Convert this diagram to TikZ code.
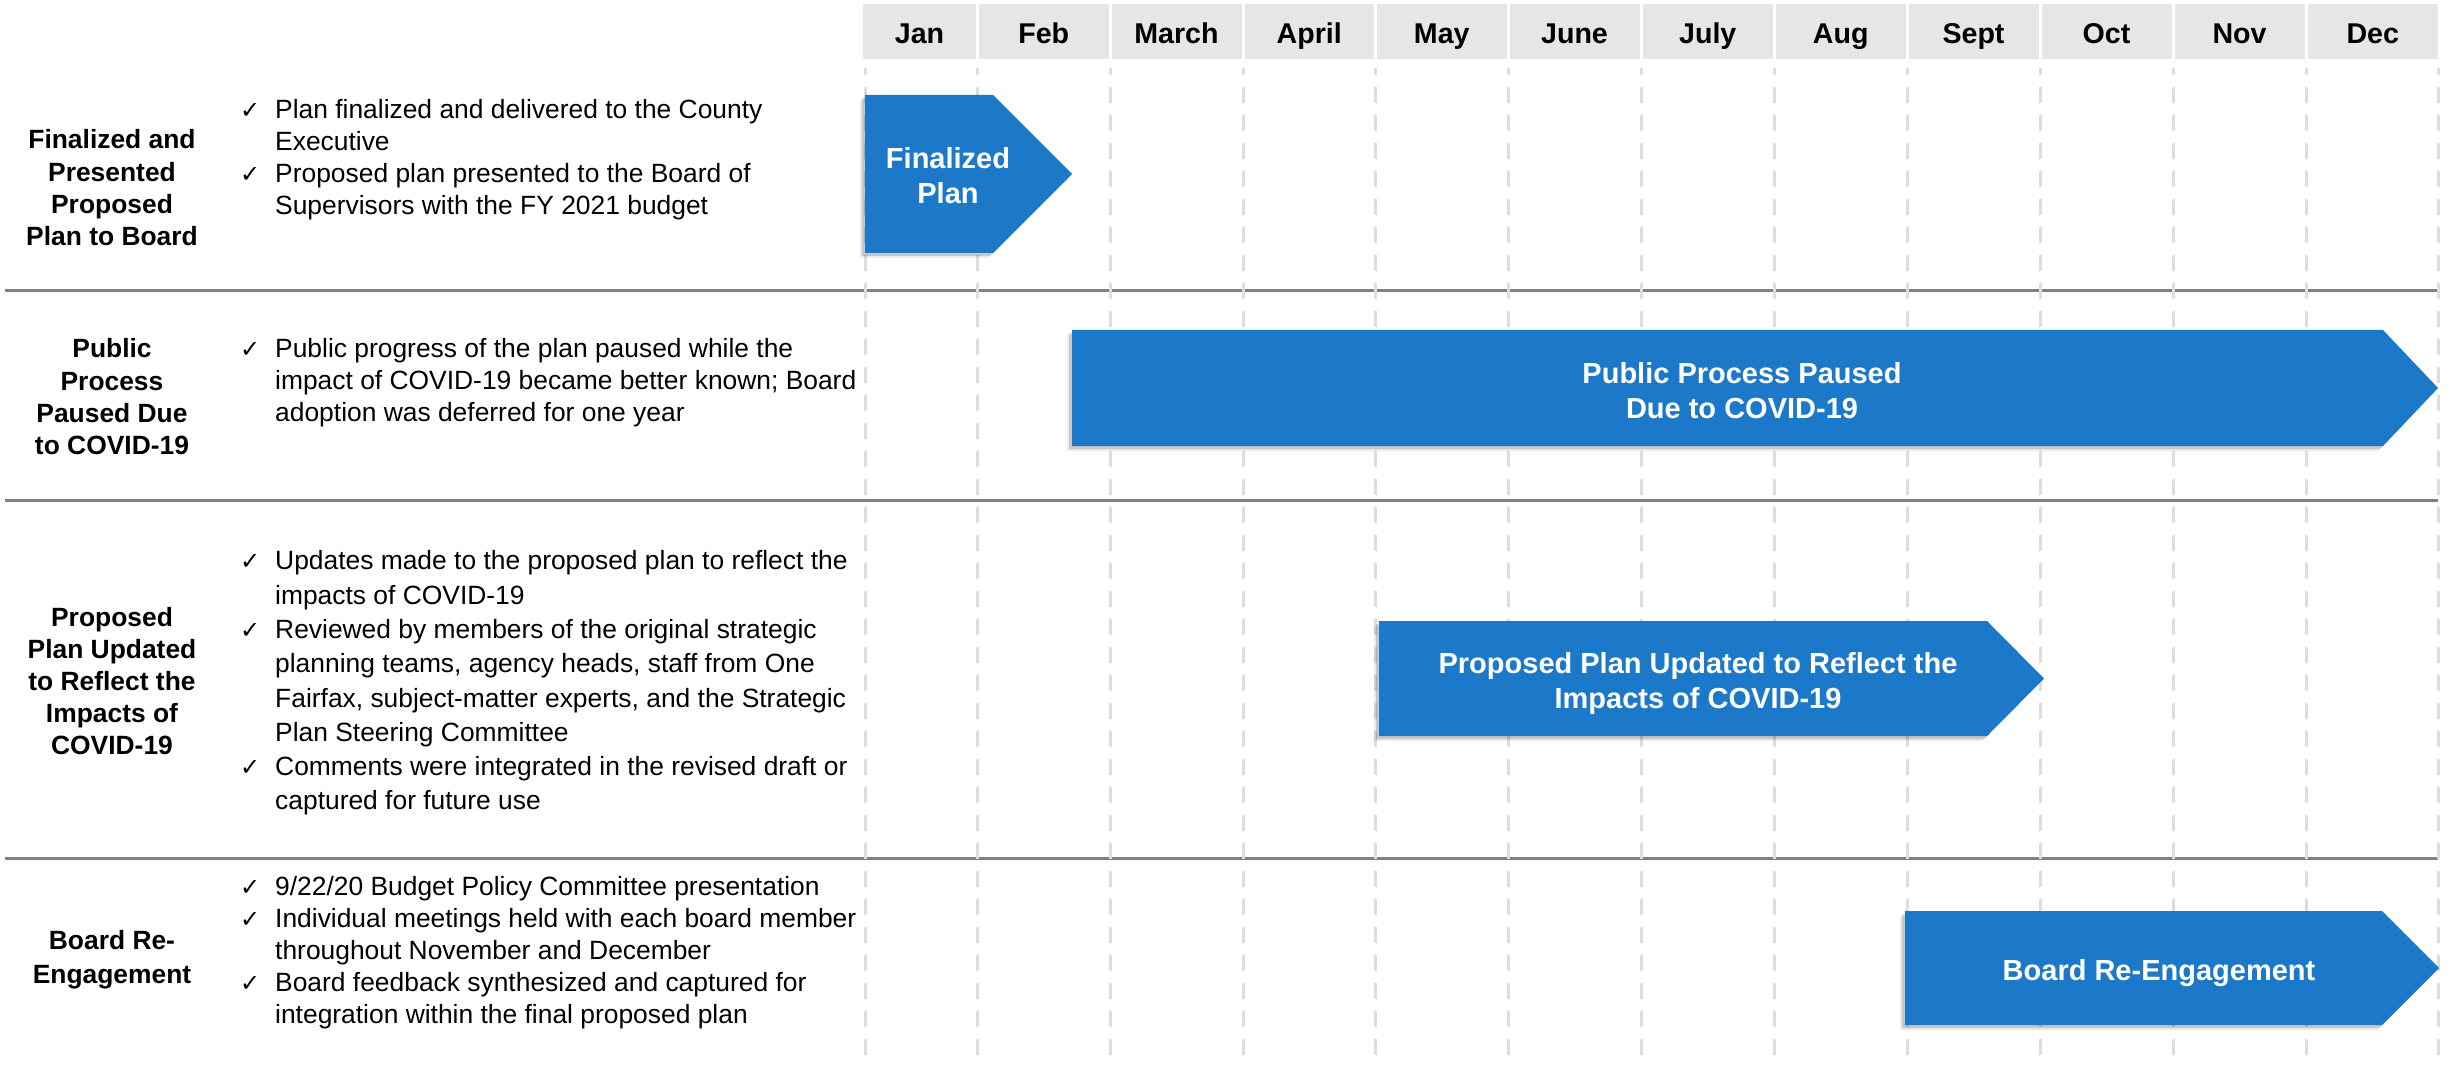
\documentclass[tikz,border=0pt]{standalone}
\usepackage{fontspec}
\setmainfont{Liberation Sans}
\newfontfamily\dejavu{DejaVu Sans}
\usetikzlibrary{shadows}
\definecolor{arrowblue}{RGB}{28,120,200}
\definecolor{hdrgray}{RGB}{230,230,230}
\definecolor{dashgray}{RGB}{221,221,221}
\definecolor{sepgray}{RGB}{128,128,128}
\newcommand{\ckm}{\makebox[35pt][l]{\hspace{0pt}{\dejavu\fontsize{24}{24}\selectfont\char"2713}}}
\newcommand{\indt}{\makebox[35pt][l]{}}
\begin{document}
\begin{tikzpicture}[x=1pt,y=-1pt,
  monthlbl/.style={font=\fontsize{28.6}{34}\selectfont\bfseries, anchor=base, inner sep=0pt},
  hdrcell/.style={fill=hdrgray, draw=none},
  gridline/.style={draw=dashgray, line width=3pt, dash pattern=on 16pt off 12pt, dash phase=9pt},
  seprule/.style={draw=sepgray, line width=3pt},
  chevron/.style={fill=arrowblue,
    general shadow={fill=black, opacity=0.08, shadow xshift=-5pt, shadow yshift=-5pt},
    general shadow={fill=black, opacity=0.15, shadow xshift=-3pt, shadow yshift=-3pt}},
  arrowlbl/.style={text=white, font=\fontsize{29}{35}\selectfont\bfseries, align=center, anchor=north, inner sep=0pt},
  rowtitle/.style={font=\fontsize{26.4}{32.3}\selectfont\bfseries, align=center, anchor=north, inner sep=0pt},
  rowbody/.style={font=\fontsize{26.4}{31.8}\selectfont, align=left, anchor=north west, inner sep=0pt},
]
\fill[white] (0,0) rectangle (2450,1067);
\useasboundingbox (0,0) rectangle (2450,1067);

% header cells and month names
\foreach \l/\r/\m/\n in {863/976/Jan/m1, 979/1108.5/Feb/m2, 1111.5/1241.5/March/m3,
  1244.5/1374/April/m4, 1377/1506.5/May/m5, 1509.5/1639.5/June/m6,
  1642.5/1773/July/m7, 1776/1905.5/Aug/m8, 1908.5/2038.5/Sept/m9,
  2041.5/2171.5/Oct/m10, 2174.5/2304.5/Nov/m11, 2307.5/2438/Dec/m12}{
  \fill[hdrcell] (\l,4) rectangle (\r,59);
  \node[monthlbl] (\n) at ({(\l+\r)/2},43.2) {\m};
}

% row separators
\draw[seprule] (5,290.5) -- (2438,290.5);
\draw[seprule] (5,500) -- (2438,500);
\draw[seprule] (5,858) -- (2438,858);

% dashed month grid
\foreach \x in {865,977.5,1110,1243,1375.5,1508,1641,1774.5,1907,2040,2173,2306,2438}{
  \draw[gridline] (\x,68) -- (\x,1067);
}

% chevrons
\fill[chevron] (865,95) -- (993,95) -- (1072,174) -- (993,253) -- (865,253) -- cycle;
\fill[chevron] (1072,330) -- (2383,330) -- (2438,388) -- (2383,446) -- (1072,446) -- cycle;
\fill[chevron] (1379,621) -- (1987,621) -- (2044,678.5) -- (1987,736) -- (1379,736) -- cycle;
\fill[chevron] (1905,911) -- (2382,911) -- (2439,968) -- (2382,1025) -- (1905,1025) -- cycle;

\node[arrowlbl] (a1) at (948,146.8) {Finalized\\Plan};
\node[arrowlbl] (a2) at (1742,361.8) {Public Process Paused\\Due to COVID-19};
\node[arrowlbl] (a3) at (1698,651.8) {Proposed Plan Updated to Reflect the\\Impacts of COVID-19};
\node[arrowlbl] (a4) at (2159,958.8) {Board Re-Engagement};

% row titles
\node[rowtitle] (t1) at (112,129.5) {Finalized and\\Presented\\Proposed\\Plan to Board};
\node[rowtitle] (t2) at (112,338.5) {Public\\Process\\Paused Due\\to COVID-19};
\node[rowtitle, font=\fontsize{26.4}{32}\selectfont\bfseries] (t3) at (112,607.5) {Proposed\\Plan Updated\\to Reflect the\\Impacts of\\COVID-19};
\node[rowtitle, font=\fontsize{26.4}{34}\selectfont\bfseries] (t4) at (112,930) {Board Re-\\Engagement};

% row bodies
\node[rowbody] (b1) at (240,99.5) {\ckm Plan finalized and delivered to the County\\
  \indt Executive\\
  \ckm Proposed plan presented to the Board of\\
  \indt Supervisors with the FY 2021 budget};
\node[rowbody] (b2) at (240,338.5) {\ckm Public progress of the plan paused while the\\
  \indt impact of COVID-19 became better known; Board\\
  \indt adoption was deferred for one year};
\node[rowbody, font=\fontsize{26.4}{34.3}\selectfont] (b3) at (240,550.5) {\ckm Updates made to the proposed plan to reflect the\\
  \indt impacts of COVID-19\\
  \ckm Reviewed by members of the original strategic\\
  \indt planning teams, agency heads, staff from One\\
  \indt Fairfax, subject-matter experts, and the Strategic\\
  \indt Plan Steering Committee\\
  \ckm Comments were integrated in the revised draft or\\
  \indt captured for future use};
\node[rowbody, font=\fontsize{26.4}{32}\selectfont] (b4) at (240,876.5) {\ckm 9/22/20 Budget Policy Committee presentation\\
  \ckm Individual meetings held with each board member\\
  \indt throughout November and December\\
  \ckm Board feedback synthesized and captured for\\
  \indt integration within the final proposed plan};
\end{tikzpicture}
\end{document}
